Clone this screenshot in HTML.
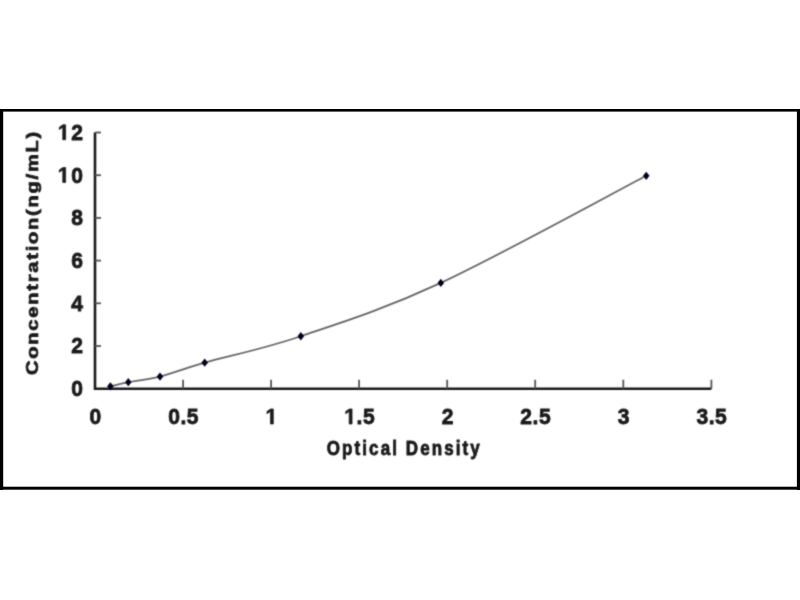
<!DOCTYPE html>
<html><head><meta charset="utf-8"><style>
html,body{margin:0;padding:0;background:#fff;width:800px;height:600px;overflow:hidden}
svg{position:absolute;left:0;top:0}
text{font-family:"Liberation Sans",sans-serif;font-weight:bold;fill:#1a1a1a;stroke:#1a1a1a;stroke-width:0.7px}
.t path{fill:#1a1a1a;stroke:#1a1a1a;stroke-width:0.7px;vector-effect:non-scaling-stroke}
</style></head><body>
<svg id="b" width="800" height="600" viewBox="0 0 800 600">
<g fill="#000"><rect x="-6" y="109" width="812" height="2.6"/><rect x="-6" y="486.7" width="812" height="3"/><rect x="-6" y="109" width="9.2" height="381"/><rect x="796.9" y="109" width="9.2" height="381"/></g>
</svg>
<svg width="800" height="600" viewBox="0 0 800 600">
<defs><filter id="f" x="-2%" y="-2%" width="104%" height="104%" color-interpolation-filters="sRGB"><feConvolveMatrix order="3" kernelMatrix="0.0277 0.1110 0.0277 0.1110 0.4452 0.1110 0.0277 0.1110 0.0277"/></filter></defs>
<g filter="url(#f)">
<g stroke="#1a1a1a" fill="none">
<polyline stroke-width="2.6" points="95,132.5 95,388.7 711.4,388.7"/>
<g stroke-width="1.8" stroke="#555"><line x1="95" y1="346.0" x2="101" y2="346.0"/><line x1="95" y1="303.3" x2="101" y2="303.3"/><line x1="95" y1="260.6" x2="101" y2="260.6"/><line x1="95" y1="217.9" x2="101" y2="217.9"/><line x1="95" y1="175.2" x2="101" y2="175.2"/><line x1="95" y1="132.5" x2="101" y2="132.5"/><line x1="183.1" y1="388.7" x2="183.1" y2="379.7"/><line x1="271.1" y1="388.7" x2="271.1" y2="379.7"/><line x1="359.1" y1="388.7" x2="359.1" y2="379.7"/><line x1="447.2" y1="388.7" x2="447.2" y2="379.7"/><line x1="535.2" y1="388.7" x2="535.2" y2="379.7"/><line x1="623.3" y1="388.7" x2="623.3" y2="379.7"/><line x1="711.4" y1="388.7" x2="711.4" y2="379.7"/></g>
</g>
<path d="M110.40 386.30 C113.38 385.62 120.03 383.82 128.30 382.20 C136.57 380.58 147.27 379.85 160.00 376.60 C172.73 373.35 181.23 369.43 204.70 362.70 C228.17 355.97 261.45 349.55 300.80 336.25 C340.15 322.95 383.23 309.64 440.80 282.90 C498.38 256.16 612.01 193.65 646.25 175.80" fill="none" stroke="#666" stroke-width="1.8"/>
<g fill="#000020"><path d="M110.4 382.2L113.7 386.3L110.4 390.4L107.1 386.3Z"/><path d="M128.3 378.1L131.6 382.2L128.3 386.3L125.0 382.2Z"/><path d="M160.0 372.5L163.3 376.6L160.0 380.7L156.7 376.6Z"/><path d="M204.7 358.6L208.0 362.7L204.7 366.8L201.4 362.7Z"/><path d="M300.8 332.1L304.1 336.2L300.8 340.4L297.5 336.2Z"/><path d="M440.8 278.8L444.1 282.9L440.8 287.0L437.5 282.9Z"/><path d="M646.2 171.7L649.5 175.8L646.2 179.9L643.0 175.8Z"/></g>
<g class="t"><text transform="translate(71.29,396.00) scale(1.08,1.12)" font-size="19.5">0</text><text transform="translate(71.29,353.30) scale(1.08,1.12)" font-size="19.5">2</text><text transform="translate(71.29,310.60) scale(1.08,1.12)" font-size="19.5">4</text><text transform="translate(71.29,267.90) scale(1.08,1.12)" font-size="19.5">6</text><text transform="translate(71.29,225.20) scale(1.08,1.12)" font-size="19.5">8</text><path transform="translate(57.85,182.50) scale(0.01028,-0.01066)" d="M478 0V1170L140 959V1180L493 1409H759V0Z"/><text transform="translate(71.29,182.50) scale(1.08,1.12)" font-size="19.5">0</text><path transform="translate(57.85,139.80) scale(0.01028,-0.01066)" d="M478 0V1170L140 959V1180L493 1409H759V0Z"/><text transform="translate(71.29,139.80) scale(1.08,1.12)" font-size="19.5">2</text><text transform="translate(89.44,424.00) scale(1.08,1.12)" font-size="19.5">0</text><text transform="translate(168.17,424.00) scale(1.08,1.12)" font-size="19.5">0</text><text transform="translate(180.42,424.00) scale(1.08,1.12)" font-size="19.5">.</text><text transform="translate(186.82,424.00) scale(1.08,1.12)" font-size="19.5">5</text><path transform="translate(265.54,424.00) scale(0.01028,-0.01066)" d="M478 0V1170L140 959V1180L493 1409H759V0Z"/><path transform="translate(344.27,424.00) scale(0.01028,-0.01066)" d="M478 0V1170L140 959V1180L493 1409H759V0Z"/><text transform="translate(356.52,424.00) scale(1.08,1.12)" font-size="19.5">.</text><text transform="translate(362.92,424.00) scale(1.08,1.12)" font-size="19.5">5</text><text transform="translate(441.64,424.00) scale(1.08,1.12)" font-size="19.5">2</text><text transform="translate(520.37,424.00) scale(1.08,1.12)" font-size="19.5">2</text><text transform="translate(532.62,424.00) scale(1.08,1.12)" font-size="19.5">.</text><text transform="translate(539.02,424.00) scale(1.08,1.12)" font-size="19.5">5</text><text transform="translate(617.74,424.00) scale(1.08,1.12)" font-size="19.5">3</text><text transform="translate(696.47,424.00) scale(1.08,1.12)" font-size="19.5">3</text><text transform="translate(708.72,424.00) scale(1.08,1.12)" font-size="19.5">.</text><text transform="translate(715.12,424.00) scale(1.08,1.12)" font-size="19.5">5</text></g>
<text transform="translate(404.30,455) scale(1,1.14)" font-size="17" letter-spacing="2.1" text-anchor="middle">Optical Density</text><text transform="translate(38,252.5) rotate(-90) scale(1.25,1)" font-size="16" letter-spacing="1.45" text-anchor="middle">Concentration(ng/mL)</text>
</g>
</svg>
</body></html>
